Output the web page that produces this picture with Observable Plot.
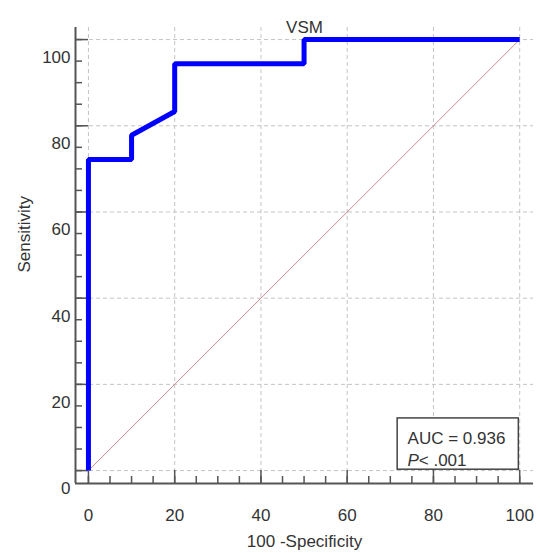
<!DOCTYPE html>
<html><head><meta charset="utf-8">
<script src="https://cdn.jsdelivr.net/npm/d3@7"></script>
<script src="https://cdn.jsdelivr.net/npm/@observablehq/plot@0.6"></script>
<style>body{margin:0;background:#fff;} svg{display:block}</style>
</head><body><div id="chart"></div>
<script>
// ---- data ----
const title = "VSM";
const xLabel = "100 -Specificity";
const yLabel = "Sensitivity";
const oneMinusSpec = [0, 0, 10, 10, 20, 20, 50, 50, 100];
const sensitivity  = [0, 72.2, 72.2, 77.8, 83.3, 94.4, 94.4, 100, 100];
const diagX = [0, 100];
const diagY = [0, 100];
const majorTicks = [0, 20, 40, 60, 80, 100];
const minorTicks = [0,5,10,15,20,25,30,35,40,45,50,55,60,65,70,75,80,85,90,95,100];
const aucLine = "AUC = 0.936";
const pSymbol = "P";
const pValue = "< .001";

// ---- layout ----
const W = 540, H = 553;
const mL = 75, mR = 7, mT = 27, mB = 70;
const frameW = W - mL - mR, frameH = H - mT - mB;
const xDom = [-3, 103.2], yDom = [-3, 102.8];
const font = "Liberation Sans, Arial, Helvetica, sans-serif";
const txt = "#333";
const axisColor = "#555";
const gridColor = "#c4c4c4";

const roc = oneMinusSpec.map((x, i) => ({x, y: sensitivity[i]}));
const diag = diagX.map((x, i) => ({x, y: diagY[i]}));

const chart = Plot.plot({
  width: W, height: H,
  marginLeft: mL, marginRight: mR, marginTop: mT, marginBottom: mB,
  style: {fontFamily: font, background: "#fff"},
  x: {domain: xDom, axis: null},
  y: {domain: yDom, axis: null},
  marks: [
    Plot.gridX(majorTicks, {stroke: gridColor, strokeOpacity: 1, strokeDasharray: "4,3", strokeWidth: 1}),
    Plot.gridY(majorTicks, {stroke: gridColor, strokeOpacity: 1, strokeDasharray: "4,3", strokeWidth: 1}),
    // axis lines
    Plot.ruleX([xDom[0]], {stroke: axisColor, strokeWidth: 2}),
    Plot.ruleY([yDom[0]], {stroke: axisColor, strokeWidth: 2}),
    // inward ticks
    Plot.tickX(minorTicks, {x: d => d, insetTop: frameH - 7, stroke: axisColor, strokeWidth: 1.5}),
    Plot.tickX(majorTicks, {x: d => d, insetTop: frameH - 13, stroke: axisColor, strokeWidth: 1.5}),
    Plot.tickY(minorTicks, {y: d => d, insetRight: frameW - 7, stroke: axisColor, strokeWidth: 1.5}),
    Plot.tickY(majorTicks, {y: d => d, insetRight: frameW - 13, stroke: axisColor, strokeWidth: 1.5}),
    // tick labels
    Plot.text(majorTicks, {x: d => d, frameAnchor: "bottom", lineAnchor: "middle", dy: 32, text: d => String(d), fontSize: 17, fill: txt}),
    Plot.text(majorTicks, {y: d => d, frameAnchor: "left", lineAnchor: "middle", dx: -5, dy: 18, textAnchor: "end", text: d => String(d), fontSize: 17, fill: txt}),
    // axis labels & title
    Plot.text([xLabel], {frameAnchor: "bottom", lineAnchor: "middle", dy: 58, text: d => d, fontSize: 17, fill: txt}),
    Plot.text([yLabel], {frameAnchor: "left", lineAnchor: "middle", dx: -51, dy: 17, rotate: -90, text: d => d, fontSize: 17, fill: txt}),
    Plot.text([title], {frameAnchor: "top", lineAnchor: "middle", dy: 0, text: d => d, fontSize: 17, fill: txt}),
    // diagonal reference
    Plot.line(diag, {x: "x", y: "y", stroke: "#cc8c8c", strokeWidth: 1}),
    // ROC curve
    Plot.line(roc, {x: "x", y: "y", stroke: "#0000ff", strokeWidth: 5, strokeLinejoin: "miter", strokeLinecap: "butt"}),
    // AUC box
    Plot.rect([aucLine], {x1: 71.7, x2: 99.8, y1: 0.2, y2: 12.1, fill: "#fff", stroke: "#444", strokeWidth: 1.5}),
    Plot.text([aucLine], {x: 74.0, y: 7.5, text: d => d, textAnchor: "start", lineAnchor: "middle", fontSize: 17, fill: txt}),
    Plot.text([pSymbol], {x: 74.0, y: 2.4, text: d => d, textAnchor: "start", lineAnchor: "middle", fontSize: 17, fontStyle: "italic", fill: txt}),
    Plot.text([pValue], {x: 76.6, y: 2.4, text: d => d, textAnchor: "start", lineAnchor: "middle", fontSize: 17, fill: txt})
  ]
});
document.getElementById("chart").appendChild(chart);
</script>
</body></html>
